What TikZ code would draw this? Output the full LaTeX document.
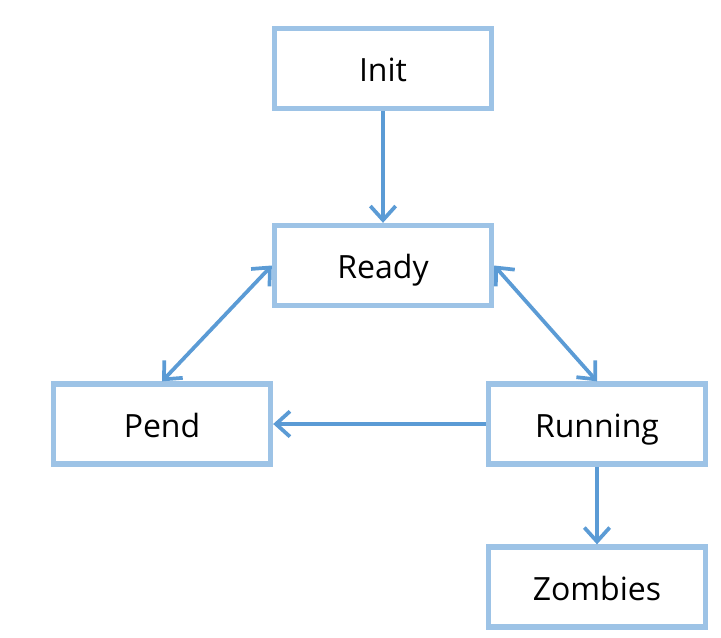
\documentclass[tikz,border=0pt]{standalone}
\usepackage{fontspec}
\setmainfont{Open Sans}
\usepackage{xcolor}
\definecolor{stborder}{RGB}{157,195,230}
\definecolor{starrow}{RGB}{91,155,213}
\usetikzlibrary{arrows.meta}
\tikzset{
  statebox/.style={draw=stborder,line width=4pt,fill=white,minimum width=162.75pt,minimum height=60pt,text height=21pt,text depth=1pt,font=\fontsize{24}{28}\selectfont},
  flow/.style={draw=starrow,line width=2.8pt,-{Straight Barb[length=10.5pt,width=19pt,line width=2.8pt]}},
  flowboth/.style={draw=starrow,line width=2.8pt,{Straight Barb[length=10.5pt,width=19pt,line width=2.8pt]}-{Straight Barb[length=10.5pt,width=19pt,line width=2.8pt]}}
}

\begin{document}
\begin{tikzpicture}[x=0.75pt,y=-0.75pt]
% ---- frame ----
\useasboundingbox (0,0) rectangle (721,638);
% ---- states ----
\node[statebox] (init) at (383,68.5) {Init};
\node[statebox] (ready) at (383,265.5) {Ready};
\node[statebox] (pend) at (162,424) {Pend};
\node[statebox] (running) at (597,424) {Running};
\node[statebox] (zombies) at (597,587) {Zombies};
% ---- transitions ----
\draw[flow] (init.south) -- (ready.north);
\draw[flowboth] (ready.west) -- (pend.north);
\draw[flowboth] (ready.east) -- (running.north);
\draw[flow] (running.west) -- (pend.east);
\draw[flow] (running.south) -- (zombies.north);
\end{tikzpicture}
\end{document}
